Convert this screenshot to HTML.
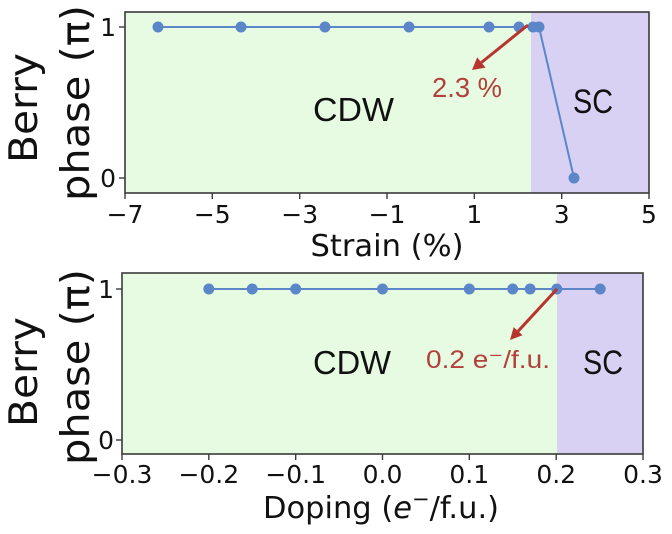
<!DOCTYPE html>
<html>
<head>
<meta charset="utf-8">
<style>
  html, body { margin: 0; padding: 0; background: #ffffff; }
  svg { display: block; }
</style>
</head>
<body>
<svg width="672" height="534" viewBox="0 0 672 534" xmlns="http://www.w3.org/2000/svg">
  <rect x="0" y="0" width="672" height="534" fill="#ffffff"/>

  <!-- ================= TOP PANEL ================= -->
  <rect x="125" y="12" width="406" height="181" fill="#e6fbe2"/>
  <rect x="531" y="12" width="118" height="181" fill="#d8d1f3"/>
  <rect x="125" y="12" width="524" height="181" fill="none" stroke="#3a3a3a" stroke-width="1.6"/>

  <!-- x ticks -->
  <g stroke="#3a3a3a" stroke-width="1.4">
    <line x1="125" y1="193" x2="125" y2="199"/>
    <line x1="212.3" y1="193" x2="212.3" y2="199"/>
    <line x1="299.7" y1="193" x2="299.7" y2="199"/>
    <line x1="387" y1="193" x2="387" y2="199"/>
    <line x1="474.3" y1="193" x2="474.3" y2="199"/>
    <line x1="561.7" y1="193" x2="561.7" y2="199"/>
    <line x1="649" y1="193" x2="649" y2="199"/>
    <line x1="119" y1="27" x2="125" y2="27"/>
    <line x1="119" y1="178" x2="125" y2="178"/>
  </g>
  <g font-family="DejaVu Sans, sans-serif" font-size="25" fill="#111" text-anchor="middle">
    <text x="125" y="223">−7</text>
    <text x="212.3" y="223">−5</text>
    <text x="299.7" y="223">−3</text>
    <text x="387" y="223">−1</text>
    <text x="474.3" y="223">1</text>
    <text x="561.7" y="223">3</text>
    <text x="649" y="223">5</text>
  </g>
  <g font-family="DejaVu Sans, sans-serif" font-size="25" fill="#111" text-anchor="end">
    <text x="116" y="36">1</text>
    <text x="116" y="187">0</text>
  </g>
  <text x="387" y="256" font-family="DejaVu Sans, sans-serif" font-size="30" fill="#111" text-anchor="middle" textLength="153" lengthAdjust="spacingAndGlyphs">Strain (%)</text>

  <!-- y label -->
  <g font-family="DejaVu Sans, sans-serif" font-size="39" fill="#111" text-anchor="middle">
    <text transform="translate(37,108) rotate(-90)" textLength="110" lengthAdjust="spacingAndGlyphs">Berry</text>
    <text transform="translate(89,103) rotate(-90)" textLength="196" lengthAdjust="spacingAndGlyphs">phase (π)</text>
  </g>

  <!-- data line -->
  <polyline points="158,27 241,27 325,27 409,27 489,27 519,27 533,27 539,27 574,178" fill="none" stroke="#5b87c8" stroke-width="2"/>
  <g fill="#5b87c8">
    <circle cx="158" cy="27" r="5.5"/>
    <circle cx="241" cy="27" r="5.5"/>
    <circle cx="325" cy="27" r="5.5"/>
    <circle cx="409" cy="27" r="5.5"/>
    <circle cx="489" cy="27" r="5.5"/>
    <circle cx="519" cy="27" r="5.5"/>
    <circle cx="533" cy="27" r="5.5"/>
    <circle cx="539" cy="27" r="5.5"/>
    <circle cx="574" cy="178" r="5.5"/>
  </g>

  <!-- arrow -->
  <line x1="528" y1="25" x2="481.4" y2="62.5" stroke="#b8342f" stroke-width="3"/>
  <polygon points="472,70 485.6,67.6 477.2,57.4" fill="#b8342f"/>
  <text x="432" y="97" font-family="Liberation Sans, sans-serif" font-size="28" fill="#b2403b" textLength="70" lengthAdjust="spacingAndGlyphs">2.3 %</text>

  <text x="313" y="121" font-family="Liberation Sans, sans-serif" font-size="33" fill="#111" textLength="81" lengthAdjust="spacingAndGlyphs">CDW</text>
  <text x="573" y="113" font-family="Liberation Sans, sans-serif" font-size="34" fill="#111" textLength="40" lengthAdjust="spacingAndGlyphs">SC</text>

  <!-- ================= BOTTOM PANEL ================= -->
  <rect x="122" y="273" width="435" height="181" fill="#e6fbe2"/>
  <rect x="557" y="273" width="86" height="181" fill="#d8d1f3"/>
  <rect x="122" y="273" width="521" height="181" fill="none" stroke="#3a3a3a" stroke-width="1.6"/>

  <g stroke="#3a3a3a" stroke-width="1.4">
    <line x1="122" y1="454" x2="122" y2="460"/>
    <line x1="208.8" y1="454" x2="208.8" y2="460"/>
    <line x1="295.7" y1="454" x2="295.7" y2="460"/>
    <line x1="382.5" y1="454" x2="382.5" y2="460"/>
    <line x1="469.3" y1="454" x2="469.3" y2="460"/>
    <line x1="556.2" y1="454" x2="556.2" y2="460"/>
    <line x1="643" y1="454" x2="643" y2="460"/>
    <line x1="116" y1="289" x2="122" y2="289"/>
    <line x1="116" y1="440" x2="122" y2="440"/>
  </g>
  <g font-family="DejaVu Sans, sans-serif" font-size="25" fill="#111" text-anchor="middle">
    <text x="122" y="483">−0.3</text>
    <text x="208.8" y="483">−0.2</text>
    <text x="295.7" y="483">−0.1</text>
    <text x="382.5" y="483">0.0</text>
    <text x="469.3" y="483">0.1</text>
    <text x="556.2" y="483">0.2</text>
    <text x="643" y="483">0.3</text>
  </g>
  <g font-family="DejaVu Sans, sans-serif" font-size="25" fill="#111" text-anchor="end">
    <text x="114" y="298">1</text>
    <text x="114" y="449">0</text>
  </g>
  <text x="263" y="518" font-family="DejaVu Sans, sans-serif" font-size="30.5" fill="#111">Doping (<tspan font-style="italic">e</tspan><tspan font-size="21" dy="-12">−</tspan><tspan dy="12">/f.u.)</tspan></text>

  <g font-family="DejaVu Sans, sans-serif" font-size="39" fill="#111" text-anchor="middle">
    <text transform="translate(37,372) rotate(-90)" textLength="110" lengthAdjust="spacingAndGlyphs">Berry</text>
    <text transform="translate(89,367) rotate(-90)" textLength="196" lengthAdjust="spacingAndGlyphs">phase (π)</text>
  </g>

  <polyline points="208.8,289 252.2,289 295.7,289 382.5,289 469.3,289 512.7,289 530.1,289 556.8,289 600.2,289" fill="none" stroke="#5b87c8" stroke-width="2"/>
  <g fill="#5b87c8">
    <circle cx="208.8" cy="289" r="5.5"/>
    <circle cx="252.2" cy="289" r="5.5"/>
    <circle cx="295.7" cy="289" r="5.5"/>
    <circle cx="382.5" cy="289" r="5.5"/>
    <circle cx="469.3" cy="289" r="5.5"/>
    <circle cx="512.7" cy="289" r="5.5"/>
    <circle cx="530.1" cy="289" r="5.5"/>
    <circle cx="556.8" cy="289" r="5.5"/>
    <circle cx="600.2" cy="289" r="5.5"/>
  </g>

  <line x1="557" y1="289" x2="518.1" y2="331.2" stroke="#b8342f" stroke-width="3"/>
  <polygon points="510,340 522.5,335.3 513.7,327.1" fill="#b8342f"/>
  <text x="426" y="368" font-family="Liberation Sans, DejaVu Sans, sans-serif" font-size="25" fill="#b2403b" textLength="124" lengthAdjust="spacingAndGlyphs">0.2 e⁻/f.u.</text>

  <text x="313" y="374" font-family="Liberation Sans, sans-serif" font-size="33" fill="#111" textLength="78" lengthAdjust="spacingAndGlyphs">CDW</text>
  <text x="583" y="374" font-family="Liberation Sans, sans-serif" font-size="34" fill="#111" textLength="40" lengthAdjust="spacingAndGlyphs">SC</text>
</svg>
</body>
</html>
